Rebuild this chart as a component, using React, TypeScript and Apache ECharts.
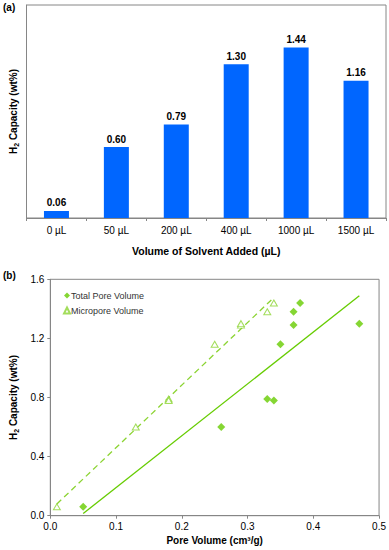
import React, { useEffect, useRef } from "react";
import * as echarts from "echarts";

const categories = ["0 µL", "50 µL", "200 µL", "400 µL", "1000 µL", "1500 µL"];
const capacity = [0.06, 0.6, 0.79, 1.3, 1.44, 1.16];

const totalPoreX = [0.05, 0.26, 0.33, 0.34, 0.35, 0.37, 0.37, 0.38, 0.47];
const totalPoreY = [0.06, 0.6, 0.79, 0.78, 1.16, 1.29, 1.38, 1.44, 1.3];
const microX = [0.01, 0.13, 0.18, 0.18, 0.25, 0.29, 0.29, 0.33, 0.34];
const microY = [0.06, 0.6, 0.79, 0.78, 1.16, 1.29, 1.3, 1.38, 1.44];

const FONT = "Arial, 'Liberation Sans', Helvetica, sans-serif";
const AXIS = "#868686";
const BAR = "#0066FF";
const GREEN = "#66CC00";
const GREEN2 = "#8CD433";

function regressionLine(xs: number[], ys: number[]): number[][] {
  const n = xs.length;
  const mx = xs.reduce((a, b) => a + b, 0) / n;
  const my = ys.reduce((a, b) => a + b, 0) / n;
  let sxy = 0;
  let sxx = 0;
  for (let i = 0; i < n; i++) {
    sxy += (xs[i] - mx) * (ys[i] - my);
    sxx += (xs[i] - mx) * (xs[i] - mx);
  }
  const slope = sxy / sxx;
  const icpt = my - slope * mx;
  const x0 = Math.min(...xs);
  const x1 = Math.max(...xs);
  return [
    [x0, icpt + slope * x0],
    [x1, icpt + slope * x1],
  ];
}

const yName = "{b|H}{s|2}{b| Capacity (wt%)}";
const yNameStyle = {
  rich: {
    b: { fontFamily: FONT, fontWeight: "bold", fontSize: 10, color: "#000", lineHeight: 13 },
    s: { fontFamily: FONT, fontWeight: "bold", fontSize: 7, color: "#000", lineHeight: 13, verticalAlign: "bottom" },
  },
};

export default function App() {
  const ref = useRef<HTMLDivElement>(null);
  useEffect(() => {
    if (!ref.current) return;
    const chart = echarts.init(ref.current, null, { renderer: "svg" });
    const totalPts = totalPoreX.map((x, i) => [x, totalPoreY[i]]);
    const microPts = microX.map((x, i) => [x, microY[i]]);
    chart.setOption({
      animation: false,
      textStyle: { fontFamily: FONT },
      graphic: [
        { type: "text", left: 3, top: 2, style: { text: "(a)", font: `bold 10px ${FONT}`, fill: "#000" } },
        { type: "text", left: 3, top: 270, style: { text: "(b)", font: `bold 10px ${FONT}`, fill: "#000" } },
      ],
      legend: {
        data: ["Total Pore Volume", "Micropore Volume"],
        orient: "vertical",
        left: 58,
        top: 286,
        itemWidth: 6,
        itemHeight: 6,
        itemGap: 6,
        textStyle: { fontFamily: FONT, fontSize: 9, color: "#333", padding: [0, 0, 0, -4] },
      },
      grid: [
        { left: 22.7, top: 5, width: 363.3, height: 213, show: true, borderColor: AXIS, borderWidth: 1 },
        { left: 34, top: 279.3, width: 347, height: 236.4, show: true, borderColor: AXIS, borderWidth: 1 },
      ],
      xAxis: [
        {
          type: "category",
          gridIndex: 0,
          data: categories,
          axisLine: { lineStyle: { color: AXIS } },
          axisTick: { show: true, length: 3, lineStyle: { color: AXIS } },
          axisLabel: { fontSize: 10, color: "#000", margin: 7, fontFamily: FONT },
          name: "Volume of Solvent Added (µL)",
          nameLocation: "middle",
          nameGap: 27,
          nameTextStyle: { fontFamily: FONT, fontWeight: "bold", fontSize: 10.5, color: "#000" },
        },
        {
          type: "value",
          gridIndex: 1,
          min: 0,
          max: 0.5,
          interval: 0.1,
          splitLine: { show: false },
          axisLine: { lineStyle: { color: AXIS } },
          axisTick: { show: true, length: 3, lineStyle: { color: AXIS } },
          axisLabel: { fontSize: 10, color: "#000", margin: 6, fontFamily: FONT, formatter: (v: number) => v.toFixed(1) },
          name: "Pore Volume (cm³/g)",
          nameLocation: "middle",
          nameGap: 20,
          nameTextStyle: { fontFamily: FONT, fontWeight: "bold", fontSize: 10, color: "#000" },
        },
      ],
      yAxis: [
        {
          type: "value",
          gridIndex: 0,
          min: 0,
          max: 1.8,
          splitLine: { show: false },
          axisLine: { show: true, lineStyle: { color: AXIS } },
          axisTick: { show: false },
          axisLabel: { show: false },
          name: yName,
          nameLocation: "middle",
          nameGap: 7,
          nameTextStyle: yNameStyle,
        },
        {
          type: "value",
          gridIndex: 1,
          min: 0,
          max: 1.6,
          interval: 0.4,
          splitLine: { show: false },
          axisLine: { show: true, lineStyle: { color: AXIS } },
          axisTick: { show: true, length: 3, lineStyle: { color: AXIS } },
          axisLabel: { fontSize: 10, color: "#000", margin: 6, fontFamily: FONT, formatter: (v: number) => v.toFixed(1) },
          name: yName,
          nameLocation: "middle",
          nameGap: 20,
          nameTextStyle: yNameStyle,
        },
      ],
      series: [
        {
          type: "bar",
          xAxisIndex: 0,
          yAxisIndex: 0,
          data: capacity,
          barWidth: 25,
          itemStyle: { color: BAR },
          label: {
            show: true,
            position: "top",
            distance: 3,
            fontFamily: FONT,
            fontWeight: "bold",
            fontSize: 10,
            color: "#000",
            formatter: (p: any) => Number(p.value).toFixed(2),
          },
        },
        {
          type: "line",
          xAxisIndex: 1,
          yAxisIndex: 1,
          data: regressionLine(totalPoreX, totalPoreY),
          symbol: "none",
          lineStyle: { color: GREEN, width: 1.3 },
          silent: true,
          z: 1,
        },
        {
          type: "line",
          xAxisIndex: 1,
          yAxisIndex: 1,
          data: regressionLine(microX, microY),
          symbol: "none",
          lineStyle: { color: GREEN2, width: 1.3, type: [6, 4] },
          silent: true,
          z: 1,
        },
        {
          name: "Total Pore Volume",
          type: "scatter",
          xAxisIndex: 1,
          yAxisIndex: 1,
          data: totalPts,
          symbol: "diamond",
          symbolSize: 8,
          itemStyle: { color: GREEN },
          z: 3,
        },
        {
          name: "Micropore Volume",
          type: "scatter",
          xAxisIndex: 1,
          yAxisIndex: 1,
          data: microPts,
          symbol: "triangle",
          symbolSize: [7, 6],
          itemStyle: { color: "#fff", borderColor: GREEN2, borderWidth: 1 },
          z: 3,
        },
      ],
    });
    return () => chart.dispose();
  }, []);
  return (
    <div
      ref={ref}
      style={{ position: "fixed", left: 0, top: 0, width: 389, height: 550, background: "#fff" }}
    />
  );
}
